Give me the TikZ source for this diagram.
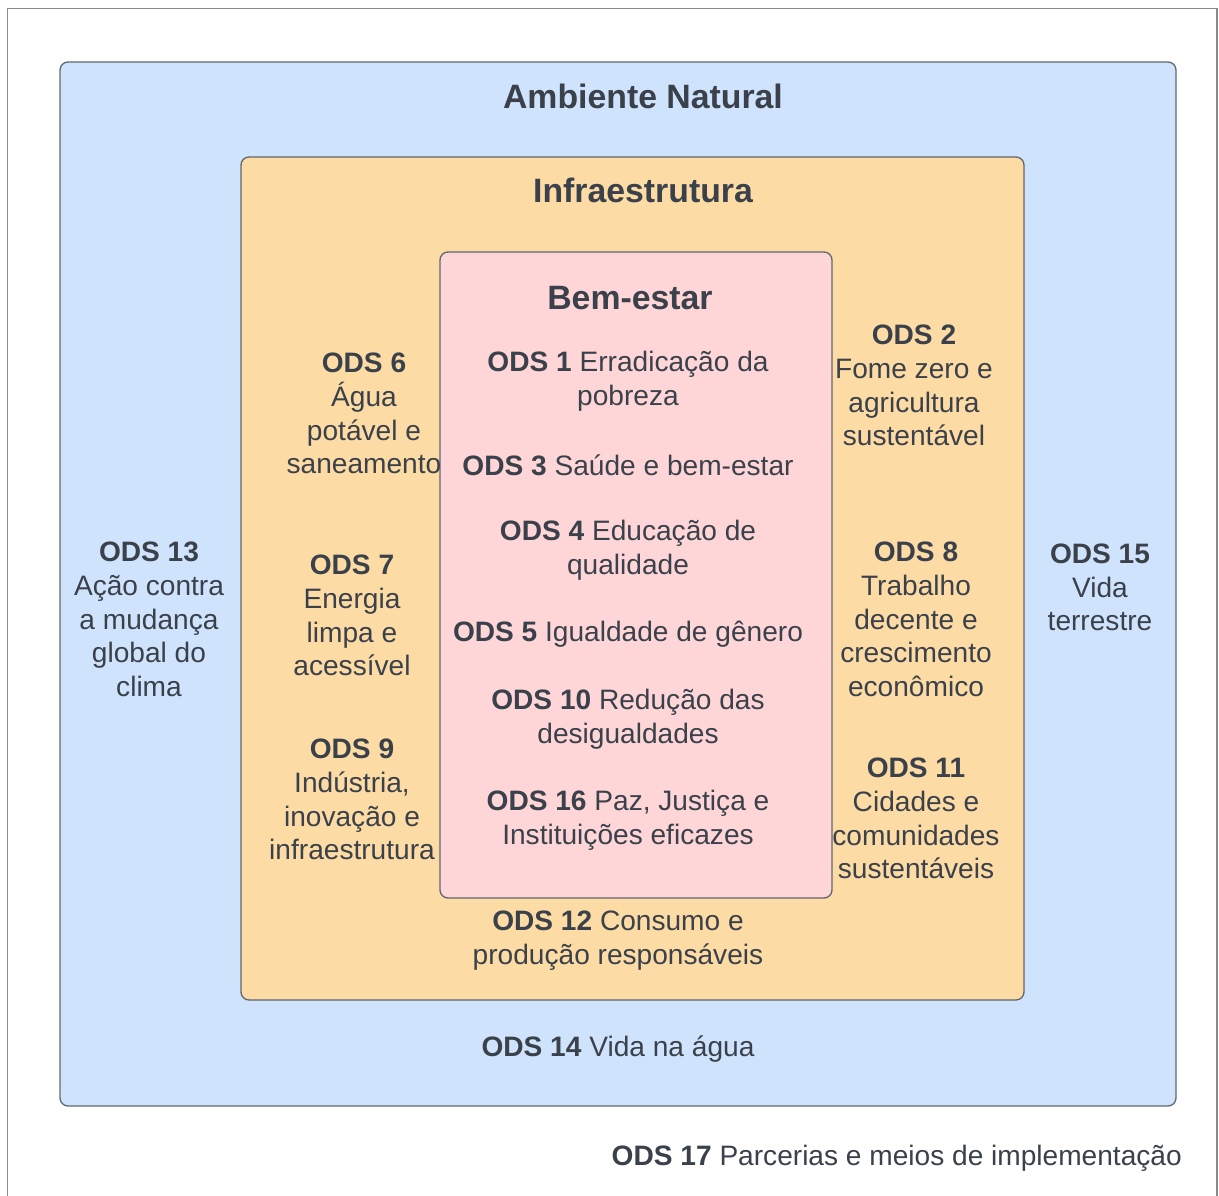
\documentclass[tikz,border=0pt]{standalone}
\usepackage{fontspec}
\setmainfont{Liberation Sans}
\definecolor{txt}{HTML}{3A414A}
\definecolor{bluefill}{HTML}{D0E3FD}
\definecolor{orangefill}{HTML}{FDDBA5}
\definecolor{pinkfill}{HTML}{FED6D8}
\definecolor{edge}{HTML}{5F6670}
\definecolor{frame}{HTML}{8A8A8A}
\begin{document}
\begin{tikzpicture}[x=1pt,y=-1pt,
  zone/.style={draw=edge,line width=1.3pt,rounded corners=8pt},
  lbl/.style={font=\fontsize{28.1}{33.8}\selectfont,text=txt,align=center,inner sep=0pt,yshift=-2.5pt},
  ttl/.style={font=\fontsize{33.8}{40}\selectfont\bfseries,text=txt,inner sep=0pt}]
\useasboundingbox (0,0) rectangle (1219,1196);
\begin{scope}
\clip (0,0) rectangle (1219,1196);
\draw[frame,line width=1.5pt] (7.5,8.5) rectangle (1217,1210);
\end{scope}
\draw[zone,fill=bluefill] (60,62) rectangle (1176,1106);
\draw[zone,fill=orangefill] (241,157) rectangle (1024,1000);
\draw[zone,fill=pinkfill] (440,252) rectangle (832,898);

\node[ttl] (amb) at (643,96) {Ambiente Natural};
\node[ttl] (inf) at (643,190) {Infraestrutura};
\node[ttl] (bem) at (630,298) {Bem-estar};

\node[lbl] (o1) at (628,379) {\textbf{ODS 1} Erradicação da\\pobreza};
\node[lbl] (o3) at (628,463) {\textbf{ODS 3} Saúde e bem-estar};
\node[lbl] (o4) at (628,548) {\textbf{ODS 4} Educação de\\qualidade};
\node[lbl] (o5) at (628,632) {\textbf{ODS 5} Igualdade de gênero};
\node[lbl] (o10) at (628,717) {\textbf{ODS 10} Redução das\\desigualdades};
\node[lbl] (o16) at (628,818) {\textbf{ODS 16} Paz, Justiça e\\Instituições eficazes};

\node[lbl] (o6) at (364,411) {\textbf{ODS 6}\\Água\\potável e\\saneamento};
\node[lbl] (o7) at (352,613) {\textbf{ODS 7}\\Energia\\limpa e\\acessível};
\node[lbl] (o9) at (352,797) {\textbf{ODS 9}\\Indústria,\\inovação e\\infraestrutura};

\node[lbl] (o2) at (914,383) {\textbf{ODS 2}\\Fome zero e\\agricultura\\sustentável};
\node[lbl] (o8) at (916,617) {\textbf{ODS 8}\\Trabalho\\decente e\\crescimento\\econômico};
\node[lbl] (o11) at (916,816) {\textbf{ODS 11}\\Cidades e\\comunidades\\sustentáveis};

\node[lbl] (o12) at (618,938) {\textbf{ODS 12} Consumo e\\produção responsáveis};
\node[lbl] (o13) at (149,617) {\textbf{ODS 13}\\Ação contra\\a mudança\\global do\\clima};
\node[lbl] (o15) at (1100,585) {\textbf{ODS 15}\\Vida\\terrestre};
\node[lbl] (o14) at (618,1047) {\textbf{ODS 14} Vida na água};
\node[lbl,anchor=east] (o17) at (1182,1156) {\textbf{ODS 17} Parcerias e meios de implementação};
\end{tikzpicture}
\end{document}
